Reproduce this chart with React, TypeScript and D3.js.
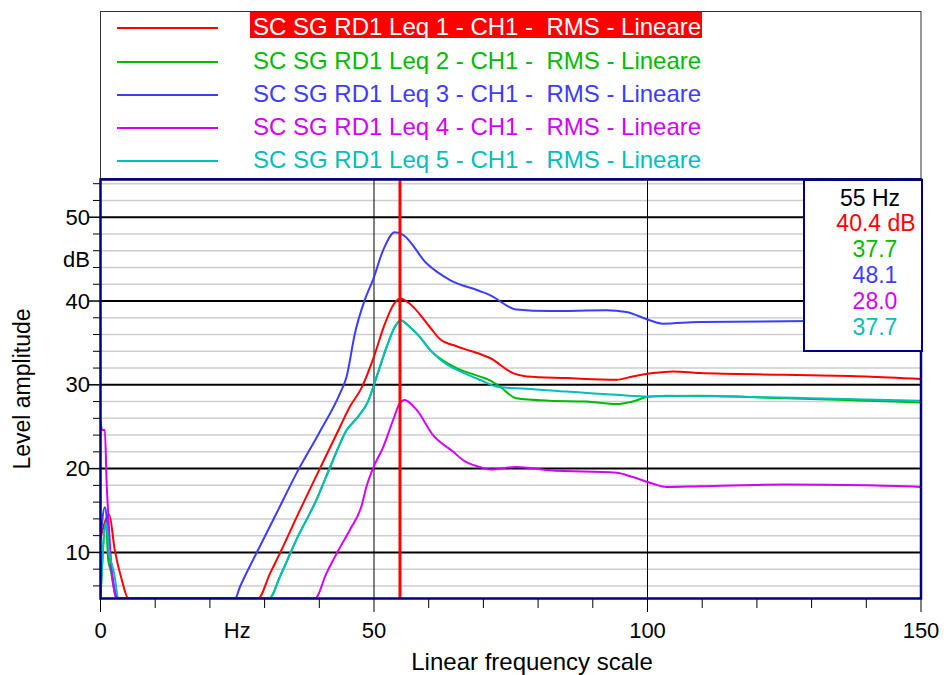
import React from "react";
import * as d3 from "d3";

// series names and colours
const seriesNames = [
  "SC SG RD1 Leq 1 - CH1 -  RMS - Lineare",
  "SC SG RD1 Leq 2 - CH1 -  RMS - Lineare",
  "SC SG RD1 Leq 3 - CH1 -  RMS - Lineare",
  "SC SG RD1 Leq 4 - CH1 -  RMS - Lineare",
  "SC SG RD1 Leq 5 - CH1 -  RMS - Lineare",
];
const seriesColors = ["#ff0000", "#00bb00", "#3c3cff", "#d400f8", "#00bebe"];

// [Hz, dB]
const leq1: [number, number][] = [
  [0, 11.7], [1.6, 14.5], [2.6, 10.3], [3.9, 6.7], [5.1, 4.5], [6, 0], [28, 0],
  [28.8, 4.5], [31.0, 7.5], [32.8, 9.9], [36.5, 15.1], [40.1, 20.0], [43.8, 25.0],
  [45.6, 27.4], [47.7, 29.6], [49.8, 33.0], [52.0, 37.3], [53.5, 39.5], [54.8, 40.3],
  [56.5, 39.7], [60.2, 36.9], [62.0, 35.5], [65.1, 34.6], [66.9, 34.2], [69.3, 33.7],
  [71.2, 33.2], [75.4, 31.4], [77.9, 31.0], [85.2, 30.8], [94.3, 30.6], [97.3, 31.0],
  [101, 31.4], [104.7, 31.6], [109.5, 31.4], [125, 31.2], [140, 31.0], [150, 30.7],
];
const leq2: [number, number][] = [
  [0, 4.5], [1.0, 13.5], [1.4, 9.1], [1.8, 8.0], [3.0, 4.5], [3.5, 0], [30, 0],
  [30.8, 4.5], [32.8, 7.1], [35.8, 11.5], [39.5, 16.3], [42.5, 21.0], [45.0, 24.6],
  [47.1, 26.2], [48.9, 28.0], [50.5, 31.0], [52.3, 34.5], [53.8, 36.9], [54.9, 37.7],
  [56.2, 37.1], [58.4, 35.7], [60.2, 34.2], [63.9, 32.4], [65.1, 32.0], [69.3, 31.0],
  [71.0, 30.6], [73.0, 29.8], [76.0, 28.4], [82.1, 28.1], [88.8, 28.0], [94.3, 27.7],
  [97.3, 28.0], [100.4, 28.6], [109.5, 28.7], [125, 28.4], [140, 28.1], [150, 27.9],
];
const leq3: [number, number][] = [
  [0, 11.5], [0.8, 15.4], [1.7, 9.5], [3.0, 4.7], [3.4, 0], [24, 0],
  [24.6, 4.5], [25.5, 5.9], [28.5, 9.9], [32.2, 14.7], [35.8, 19.4], [40.1, 24.4],
  [43.8, 29.0], [45.0, 31.0], [46.5, 36.1], [48.3, 40.1], [49.8, 42.5], [51.7, 46.1],
  [53.8, 48.2], [55.3, 47.9], [59.6, 44.5], [63.9, 42.5], [69.3, 41.2], [71.2, 40.7],
  [76.0, 39.0], [82.1, 38.8], [92.5, 38.9], [96.1, 38.7], [100.4, 37.7], [102.8, 37.3],
  [109.5, 37.5], [130, 37.6], [150, 37.5],
];
const leq4: [number, number][] = [
  [0, 25.6], [0.3, 24.6], [0.8, 24.6], [1.1, 18.6], [1.4, 14.7], [2.0, 8.3],
  [2.6, 5.1], [2.9, 4.5], [3.3, 0], [38.5, 0], [39.2, 4.5], [41.3, 7.5], [43.2, 9.9],
  [45.6, 12.7], [47.7, 15.5], [48.6, 17.8], [49.8, 20.0], [51.7, 22.6], [53.5, 25.8],
  [54.7, 27.8], [55.6, 28.2], [57.8, 27.0], [60.8, 24.0], [64.5, 22.0], [66.3, 21.0],
  [69.3, 20.2], [71.2, 19.9], [76.0, 20.2], [82.1, 19.8], [94.3, 19.5], [97.3, 19.0],
  [101, 18.2], [103.5, 17.8], [109.5, 17.9], [125, 18.1], [140, 18.0], [150, 17.8],
];
const leq5: [number, number][] = [
  [0, 4.5], [1.0, 13.6], [1.6, 10.0], [2.5, 7.5], [3.3, 4.5], [3.8, 0], [30, 0],
  [30.9, 4.5], [32.8, 7.1], [35.8, 11.5], [39.5, 16.3], [42.5, 21.0], [45.0, 24.6],
  [47.1, 26.2], [48.9, 28.0], [50.5, 31.0], [52.3, 34.5], [53.8, 36.9], [54.9, 37.7],
  [56.2, 37.1], [58.4, 35.7], [60.2, 34.2], [63.9, 32.2], [65.1, 31.8], [69.3, 30.6],
  [73.0, 29.7], [76.0, 29.6], [85.2, 29.2], [94.3, 28.8], [100.4, 28.6], [103.5, 28.7],
  [115, 28.6], [130, 28.4], [150, 28.1],
];
const allSeries = [leq1, leq2, leq3, leq4, leq5];

const cursorFreq = 54.75;
const readoutValues = [40.4, 37.7, 48.1, 28.0, 37.7];

const yMajorTicks = [10, 20, 30, 40, 50];
const yMinorTicks = [6, 8, 12, 14, 16, 18, 22, 24, 26, 28, 32, 34, 36, 38, 42, 44, 46, 48, 52, 54];
const xTicks = [0, 10, 20, 30, 40, 50, 60, 70, 80, 90, 100, 110, 120, 130, 140, 150];
const xLabels: [number, string][] = [[0, "0"], [25, "Hz"], [50, "50"], [100, "100"], [150, "150"]];
const xGridLines = [50, 100];

const FONT = "'Liberation Sans', Arial, sans-serif";
const NAVY = "#000080";

export default function App() {
  const left = 100.5, right = 921, top = 179.5, bottom = 598.5;
  const x = d3.scaleLinear().domain([0, 150]).range([left, right]);
  const y = d3.scaleLinear().domain([4.5, 54.5]).range([bottom, top]).clamp(true);
  const line = d3
    .line<[number, number]>()
    .x((d) => x(d[0]))
    .y((d) => y(d[1]))
    .curve(d3.curveMonotoneX);

  const legendRows = [26, 60, 93, 126, 159];
  const readoutRows = [223, 249, 275, 301, 327];

  return (
    <svg width={951} height={675} style={{ position: "absolute", left: 0, top: 0, background: "#fff" }} fontFamily={FONT}>
      <defs>
        <clipPath id="plotClip">
          <rect x={left} y={top} width={right - left} height={bottom - top} />
        </clipPath>
      </defs>

      {/* legend */}
      <rect x={100.5} y={11.5} width={820.5} height={167} fill="#fff" stroke="#333" strokeWidth={1} />
      <rect x={250} y={12} width={452} height={26} fill="#ff0000" />
      {seriesNames.map((name, i) => (
        <g key={name}>
          <line x1={117} x2={218} y1={legendRows[i] + 2} y2={legendRows[i] + 2} stroke={seriesColors[i]} strokeWidth={2} />
          <text x={253} y={legendRows[i]} dominantBaseline="central" fontSize={24}
            fill={i === 0 ? "#fff" : seriesColors[i]} style={{ whiteSpace: "pre" }}>
            {name}
          </text>
        </g>
      ))}

      {/* grid */}
      <rect x={left} y={top} width={right - left} height={bottom - top} fill="#fff" />
      {yMinorTicks.map((t) => (
        <line key={"gm" + t} x1={left} x2={right} y1={y(t)} y2={y(t)} stroke="#cdcdcd" strokeWidth={1.5} />
      ))}
      {yMajorTicks.map((t) => (
        <line key={"gM" + t} x1={left} x2={right} y1={y(t)} y2={y(t)} stroke="#000" strokeWidth={2} />
      ))}
      {xGridLines.map((t) => (
        <line key={"gx" + t} x1={x(t)} x2={x(t)} y1={top} y2={bottom} stroke="#000" strokeWidth={1} />
      ))}

      {/* y ticks */}
      {yMinorTicks.map((t) => (
        <line key={"tm" + t} x1={93} x2={left} y1={y(t)} y2={y(t)} stroke="#000" strokeWidth={1} />
      ))}
      {yMajorTicks.map((t) => (
        <g key={"tM" + t}>
          <line x1={88} x2={left} y1={y(t)} y2={y(t)} stroke="#000" strokeWidth={1.5} />
          <text x={90} y={y(t)} textAnchor="end" dominantBaseline="central" fontSize={22} fill="#000">{t}</text>
        </g>
      ))}
      <text x={90} y={y(45)} textAnchor="end" dominantBaseline="central" fontSize={22} fill="#000">dB</text>

      {/* x ticks */}
      {xTicks.map((t) => (
        <line key={"tx" + t} x1={x(t)} x2={x(t)} y1={bottom} y2={t % 50 === 0 ? 612 : 608} stroke="#000" strokeWidth={1} />
      ))}
      {xLabels.map(([v, s]) => (
        <text key={"lx" + s} x={x(v)} y={630} textAnchor="middle" dominantBaseline="central" fontSize={22} fill="#000">{s}</text>
      ))}

      {/* curves */}
      <g clipPath="url(#plotClip)">
        {allSeries.map((d, i) => (
          <path key={i} d={line(d) || ""} fill="none" stroke={seriesColors[i]} strokeWidth={2} strokeLinejoin="round" />
        ))}
      </g>

      {/* cursor */}
      <line x1={x(cursorFreq)} x2={x(cursorFreq)} y1={top} y2={bottom} stroke="#ff0000" strokeWidth={3} />

      {/* frame */}
      <rect x={left} y={top} width={right - left} height={bottom - top} fill="none" stroke={NAVY} strokeWidth={2.5} />

      {/* readout */}
      <rect x={804} y={180} width={118} height={171} fill="#fff" stroke={NAVY} strokeWidth={2} />
      <text x={870} y={198} textAnchor="middle" dominantBaseline="central" fontSize={23} fill="#000">
        {Math.round(cursorFreq)} Hz
      </text>
      {readoutValues.map((v, i) => (
        <text key={"r" + i} x={i === 0 ? 876 : 875} y={readoutRows[i]} textAnchor="middle" dominantBaseline="central"
          fontSize={23} fill={seriesColors[i]}>
          {v.toFixed(1) + (i === 0 ? " dB" : "")}
        </text>
      ))}

      {/* axis titles */}
      <text x={532} y={661} textAnchor="middle" dominantBaseline="central" fontSize={24} fill="#000">
        Linear frequency scale
      </text>
      <text transform={`translate(22,${(top + bottom) / 2}) rotate(-90)`} textAnchor="middle" dominantBaseline="central"
        fontSize={23} fill="#000">
        Level amplitude
      </text>
    </svg>
  );
}
